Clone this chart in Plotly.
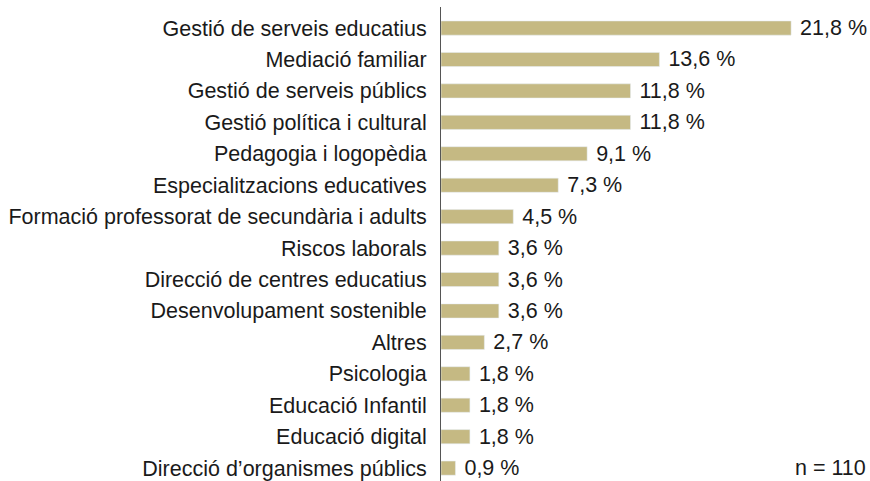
import plotly.graph_objects as go

categories = [
    "Gestió de serveis educatius",
    "Mediació familiar",
    "Gestió de serveis públics",
    "Gestió política i cultural",
    "Pedagogia i logopèdia",
    "Especialitzacions educatives",
    "Formació professorat de secundària i adults",
    "Riscos laborals",
    "Direcció de centres educatius",
    "Desenvolupament sostenible",
    "Altres",
    "Psicologia",
    "Educació Infantil",
    "Educació digital",
    "Direcció d’organismes públics",
]
values = [21.8, 13.6, 11.8, 11.8, 9.1, 7.3, 4.5, 3.6, 3.6, 3.6, 2.7, 1.8, 1.8, 1.8, 0.9]
# non-breaking space in front keeps a small gap between bar and label
labels = ["\u00a0" + f"{v:.1f} %".replace(".", ",") for v in values]
n_total = 110

font_family = "Liberation Sans, Arial, sans-serif"
txt = dict(size=21.5, color="#1a1a1a", family=font_family)

fig = go.Figure(go.Bar(
    x=values,
    y=categories,
    orientation="h",
    marker_color="#c5b983",
    text=labels,
    textposition="outside",
    constraintext="none",
    textfont=txt,
    cliponaxis=False,
    width=0.45,
    hoverinfo="skip",
))

fig.update_layout(
    width=870, height=481,
    margin=dict(l=441, r=0, t=7, b=0, autoexpand=False),
    plot_bgcolor="white", paper_bgcolor="white",
    showlegend=False,
    font=txt,
    xaxis=dict(range=[0, 429 / 16.06], visible=False),
    yaxis=dict(
        range=[14.41, -0.67],
        showline=True, linecolor="#555555", linewidth=1,
        ticks="", ticklabelstandoff=9, automargin=False,
        tickfont=txt,
        showgrid=False, zeroline=False,
    ),
    annotations=[dict(
        text=f"n = {n_total}", xref="paper", yref="y",
        x=0.995, y=14, xanchor="right", yanchor="middle",
        showarrow=False, font=txt,
    )],
)

fig.write_html("out.html", config={"displayModeBar": False},
               post_script="document.body.style.margin='0';")
